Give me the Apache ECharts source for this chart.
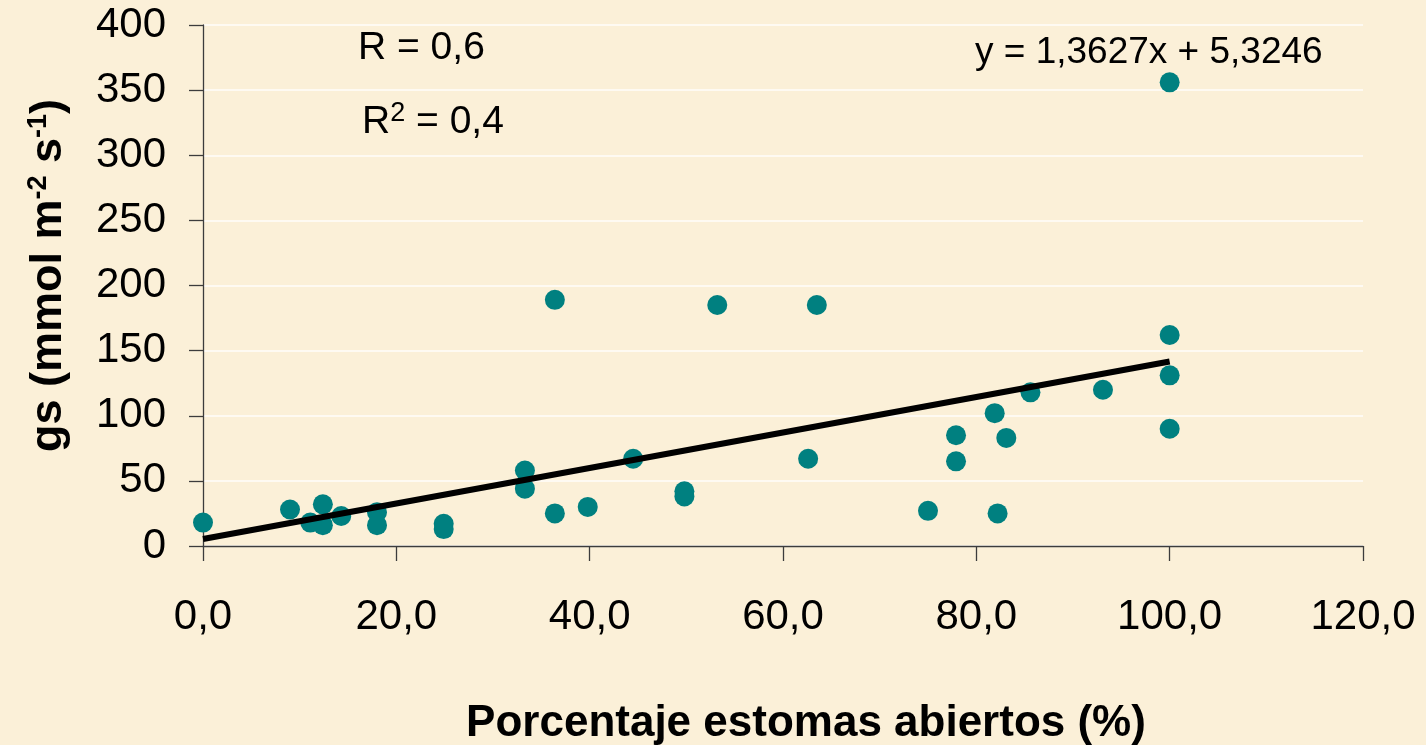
<!DOCTYPE html>
<html>
<head>
<meta charset="utf-8">
<script src="https://cdn.jsdelivr.net/npm/echarts@6/dist/echarts.min.js"></script>
<style>
  html, body { margin: 0; padding: 0; background: #FBF0D8; }
  #chart { width: 1426px; height: 745px; }
</style>
</head>
<body>
<div id="chart"></div>
<script>
// Percentage of open stomata (x) and stomatal conductance gs (y)
const porcentaje = [
  0, 9.0, 11.1, 12.4, 12.4, 14.3, 18.0, 18.0, 24.9, 24.9,
  33.3, 33.3, 36.4, 36.4, 39.8, 44.5, 49.8, 49.8, 53.2, 62.6,
  63.5, 75.0, 77.9, 77.9, 81.9, 82.2, 83.1, 85.6, 93.1, 100,
  100, 100, 100
];
const gs = [
  18, 28, 18, 32, 16, 23, 26, 16, 17, 13,
  58, 44, 189, 25, 30, 67, 42, 38, 185, 67,
  185, 27, 85, 65, 102, 25, 83, 118, 120, 356,
  162, 131, 90
];

// Linear fit reported on the chart
const pendiente = 1.3627;
const intercepto = 5.3246;
const ajusteX = [0, 100];

const xTicks = { min: 0, max: 120, interval: 20 };
const yTicks = { min: 0, max: 400, interval: 50 };

const puntos = porcentaje.map((x, i) => [x, gs[i]]);
const recta = ajusteX.map(x => [x, pendiente * x + intercepto]);

const FONT = '"Liberation Sans", Arial, sans-serif';
const axisColor = '#3c3c3c';

const chart = echarts.init(document.getElementById('chart'), null, { renderer: 'canvas' });

chart.setOption({
  backgroundColor: '#FBF0D8',
  animation: false,
  grid: { left: 203, right: 63, top: 25, bottom: 199, containLabel: false, outerBoundsMode: 'none' },
  xAxis: {
    type: 'value',
    min: xTicks.min, max: xTicks.max, interval: xTicks.interval,
    axisLine: { show: true, lineStyle: { color: axisColor, width: 1.3 } },
    axisTick: { show: true, length: 15, lineStyle: { color: axisColor, width: 1.3 } },
    axisLabel: {
      fontSize: 42, fontFamily: FONT, color: '#000', margin: 50,
      formatter: v => v.toFixed(1).replace('.', ',')
    },
    splitLine: { show: false },
    name: 'Porcentaje estomas abiertos (%)',
    nameLocation: 'middle',
    nameGap: 156,
    nameTextStyle: {
      fontSize: 44, fontWeight: 'bold', fontFamily: FONT, color: '#000',
      padding: [0, 0, 0, 46]
    }
  },
  yAxis: {
    type: 'value',
    min: yTicks.min, max: yTicks.max, interval: yTicks.interval,
    axisLine: { show: true, lineStyle: { color: axisColor, width: 1.3 } },
    axisTick: { show: true, length: 14, lineStyle: { color: axisColor, width: 1.3 } },
    axisLabel: { fontSize: 42, fontFamily: FONT, color: '#000', margin: 37 },
    splitLine: { show: true, lineStyle: { color: 'rgba(255,255,255,0.9)', width: 1.5 } },
    name: '{t|gs (mmol m}{s|-2}{t| s}{s|-1}{t|)}',
    nameLocation: 'middle',
    nameGap: 130,
    nameTextStyle: {
      padding: [0, 0, 0, 20],
      rich: {
        t: { fontSize: 45, fontWeight: 'bold', fontFamily: FONT, color: '#000', lineHeight: 48 },
        s: { fontSize: 27, fontWeight: 'bold', fontFamily: FONT, color: '#000', verticalAlign: 'top', lineHeight: 27 }
      }
    }
  },
  graphic: [
    {
      type: 'text', left: 358, top: 29,
      style: { text: 'R = 0,6', font: '39px ' + FONT, fill: '#000' }
    },
    {
      type: 'text', left: 362, top: 100,
      style: {
        text: '{a|R}{b|2}{a| = 0,4}',
        rich: {
          a: { fontSize: 39, fontFamily: FONT, color: '#000', lineHeight: 44 },
          b: { fontSize: 27, fontFamily: FONT, color: '#000', verticalAlign: 'top', lineHeight: 26 }
        }
      }
    },
    {
      type: 'text', left: 975, top: 34,
      style: { text: 'y = 1,3627x + 5,3246', font: '37px ' + FONT, fill: '#000' }
    }
  ],
  series: [
    {
      type: 'scatter',
      data: puntos,
      symbol: 'circle',
      symbolSize: 20,
      itemStyle: { color: '#008080', opacity: 1 },
      z: 2
    },
    {
      type: 'line',
      data: recta,
      symbol: 'none',
      lineStyle: { color: '#000', width: 6 },
      z: 3
    }
  ]
});
</script>
</body>
</html>
